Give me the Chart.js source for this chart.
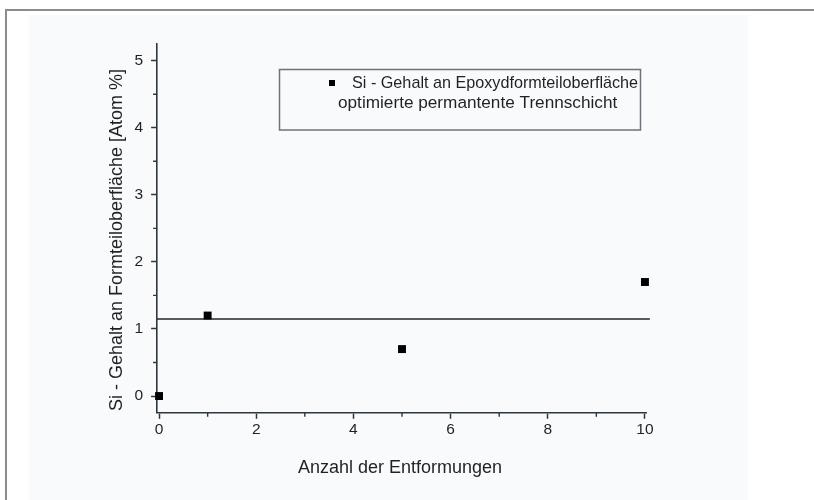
<!DOCTYPE html>
<html>
<head>
<meta charset="utf-8">
<script src="https://cdn.jsdelivr.net/npm/chart.js@4/dist/chart.umd.min.js"></script>
<style>
  html, body { margin: 0; padding: 0; background: #ffffff; }
  #wrap { position: relative; width: 814px; height: 500px; overflow: hidden; }
  #frame { position: absolute; left: 5px; top: 9px; width: 900px; height: 600px;
           border-top: 2px solid #8c8c8c; border-left: 2px solid #8c8c8c; }
  #panel { position: absolute; left: 29px; top: 15px; width: 719px; height: 485px; background: #f9fafc; }
  canvas { position: absolute; left: 0; top: 0; }
</style>
</head>
<body>
<div id="wrap">
  <div id="frame"></div>
  <div id="panel"></div>
  <canvas id="chart" width="814" height="500"></canvas>
</div>
<script>
// Measured Si content on the moulded part surface after n demouldings
const demouldings = [0, 1, 5, 10];
const siContent = [0, 1.2, 0.7, 1.7];

// Reference level of the optimised permanent release layer
const refLineX = [-0.04, 10.1];
const refLineY = [1.15, 1.15];

// Axis ticks
const xMajorTicks = [0, 2, 4, 6, 8, 10];
const xMinorTicks = [1, 3, 5, 7, 9];
const yMajorTicks = [0, 1, 2, 3, 4, 5];
const yMinorTicks = [0.5, 1.5, 2.5, 3.5, 4.5];

// Texts
const xTitle = 'Anzahl der Entformungen';
const yTitle = 'Si - Gehalt an Formteiloberfläche [Atom %]';
const legendLines = ['Si - Gehalt an Epoxydformteiloberfläche', 'optimierte permantente Trennschicht'];

const FONT = "'Liberation Sans', Arial, Helvetica, sans-serif";
const INK = '#1e2224';
const AXIS = '#2c383d';

// Short minor ticks on both axes
const minorTicks = {
  id: 'minorTicks',
  afterDraw(chart) {
    const { ctx, chartArea, scales } = chart;
    ctx.save();
    ctx.strokeStyle = AXIS;
    ctx.lineWidth = 1.4;
    ctx.beginPath();
    xMinorTicks.forEach(v => {
      const px = scales.x.getPixelForValue(v);
      ctx.moveTo(px, chartArea.bottom);
      ctx.lineTo(px, chartArea.bottom + 4);
    });
    yMinorTicks.forEach(v => {
      const py = scales.y.getPixelForValue(v);
      ctx.moveTo(chartArea.left, py);
      ctx.lineTo(chartArea.left - 4, py);
    });
    ctx.stroke();
    ctx.restore();
  }
};

// Axis titles
const axisTitles = {
  id: 'axisTitles',
  afterDraw(chart) {
    const { ctx } = chart;
    ctx.save();
    ctx.fillStyle = INK;
    ctx.font = '18px ' + FONT;
    ctx.textAlign = 'center';
    ctx.textBaseline = 'middle';
    ctx.fillText(xTitle, 400, 468);
    ctx.translate(117, 240);
    ctx.rotate(-Math.PI / 2);
    ctx.fillText(yTitle, 0, 0);
    ctx.restore();
  }
};

// Boxed legend with marker and two text lines
const boxLegend = {
  id: 'boxLegend',
  afterDraw(chart) {
    const { ctx } = chart;
    const ds = chart.data.datasets[0];
    ctx.save();
    ctx.strokeStyle = '#6a757b';
    ctx.lineWidth = 1.5;
    ctx.strokeRect(279.5, 69.5, 361, 60.5);
    ctx.fillStyle = ds.backgroundColor;
    ctx.fillRect(329, 80, 6, 6);
    ctx.fillStyle = INK;
    ctx.textAlign = 'left';
    ctx.textBaseline = 'middle';
    ctx.font = '16.2px ' + FONT;
    ctx.fillText(legendLines[0], 352, 83.5);
    ctx.font = '17.2px ' + FONT;
    ctx.fillText(legendLines[1], 338, 103.5);
    ctx.restore();
  }
};

new Chart(document.getElementById('chart'), {
  type: 'scatter',
  data: {
    datasets: [
      {
        label: legendLines.join(' '),
        data: demouldings.map((x, i) => ({ x, y: siContent[i] })),
        pointStyle: 'rect',
        pointRadius: 5.6,
        pointHoverRadius: 5.6,
        backgroundColor: '#000000',
        borderColor: '#000000',
        borderWidth: 0,
        clip: false
      },
      {
        type: 'line',
        label: 'Trennschicht',
        data: refLineX.map((x, i) => ({ x, y: refLineY[i] })),
        borderColor: '#222628',
        borderWidth: 1.5,
        pointRadius: 0,
        fill: false,
        clip: false
      }
    ]
  },
  options: {
    responsive: false,
    animation: false,
    events: [],
    layout: { padding: { left: 0, top: 43.9, right: 167.1, bottom: 0 } },
    plugins: { legend: { display: false }, tooltip: { enabled: false } },
    scales: {
      x: {
        type: 'linear',
        min: -0.04,
        max: 10.04,
        afterBuildTicks: s => { s.ticks = xMajorTicks.map(v => ({ value: v })); },
        afterFit: s => { s.height = 87.2; },
        ticks: { color: INK, font: { family: FONT, size: 15.5 }, padding: 2 },
        grid: { display: true, drawOnChartArea: false, drawTicks: true, tickLength: 6, tickColor: AXIS, tickWidth: 1.5 },
        border: { display: true, color: AXIS, width: 1.6 }
      },
      y: {
        type: 'linear',
        min: -0.25,
        max: 5.25,
        afterBuildTicks: s => { s.ticks = yMajorTicks.map(v => ({ value: v })); },
        afterFit: s => { s.width = 157.1; },
        ticks: { color: INK, font: { family: FONT, size: 15.5 }, padding: 8 },
        grid: { display: true, drawOnChartArea: false, drawTicks: true, tickLength: 6, tickColor: AXIS, tickWidth: 1.5 },
        border: { display: true, color: AXIS, width: 1.6 }
      }
    }
  },
  plugins: [minorTicks, axisTitles, boxLegend]
});
</script>
</body>
</html>
